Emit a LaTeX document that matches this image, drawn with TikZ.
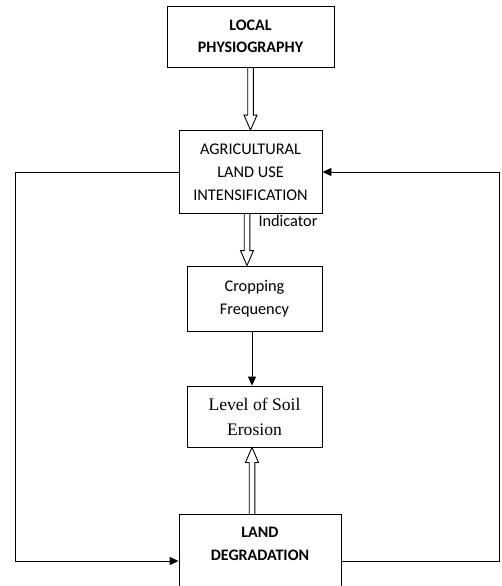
\documentclass[tikz,border=0pt]{standalone}
\usepackage{fontspec}
\setmainfont{Carlito}
\newfontfamily\timesfont{Liberation Serif}
\usetikzlibrary{calc,arrows.meta}
\tikzset{
  box/.style={draw, line width=0.9pt, inner sep=0pt, align=center,
    font=\fontsize{16.3}{23}\selectfont},
  boldbox/.style={box, font=\fontsize{16}{22.5}\selectfont\bfseries},
  serifbox/.style={box, font=\fontsize{17.6}{25}\timesfont},
  arr/.style={line width=0.9pt, -{Triangle[length=9pt,width=8pt]}},
  blockarr/.style={line width=0.9pt, to path={
    ($(\tikztostart)!2.8pt!90:(\tikztotarget)$) --
    ($($(\tikztotarget)!15pt!(\tikztostart)$)!2.8pt!90:(\tikztotarget)$) --
    ($($(\tikztotarget)!15pt!(\tikztostart)$)!6.5pt!90:(\tikztotarget)$) --
    (\tikztotarget) --
    ($($(\tikztotarget)!15pt!(\tikztostart)$)!6.5pt!-90:(\tikztotarget)$) --
    ($($(\tikztotarget)!15pt!(\tikztostart)$)!2.8pt!-90:(\tikztotarget)$) --
    ($(\tikztostart)!2.8pt!-90:(\tikztotarget)$)
  }}
}
\begin{document}
\begin{tikzpicture}[x=1pt,y=-1pt]
\useasboundingbox (0,0) rectangle (501,586);
\clip (0,0) rectangle (501,586);
\node[boldbox, minimum width=167, minimum height=61] (lp) at (250.5,36.5) {LOCAL\\PHYSIOGRAPHY};
\node[box, minimum width=143, minimum height=83] (agri) at (250.5,172) {AGRICULTURAL\\LAND USE\\INTENSIFICATION};
\node[font=\fontsize{16.3}{18}\selectfont, inner sep=0pt] (ind) at (288,221) {Indicator};
\node[box, minimum width=135, minimum height=65] (crop) at (254.5,298.5) {Cropping\\Frequency};
\node[serifbox, minimum width=135, minimum height=61] (soil) at (254.5,416.5) {Level of Soil\\Erosion};
\node[draw, line width=0.9pt, minimum width=162, minimum height=110, anchor=north, inner sep=0pt] (ld) at (260,514) {};
\node[font=\fontsize{16}{23}\selectfont\bfseries, align=center, inner sep=0pt] (ldt) at (260,543.5) {LAND\\DEGRADATION};
\coordinate (lft) at (15,0);
\coordinate (rgt) at (499,0);
\coordinate (ldL) at ($(ld.north west)+(0,47)$);
\coordinate (ldR) at ($(ld.north east)+(0,47)$);
\draw[blockarr] (lp.south) to (agri.north);
\draw[blockarr] (agri.south -| 247,0) to (crop.north -| 247,0);
\draw[arr] (crop.south -| 252,0) -- (soil.north -| 252,0);
\draw[blockarr] (ld.north -| 252,0) to (soil.south -| 252,0);
\draw[arr] (agri.west) -- (agri.west -| lft) |- (ldL);
\draw[arr] (ldR) -- (ldR -| rgt) |- (agri.east);
\end{tikzpicture}
\end{document}
